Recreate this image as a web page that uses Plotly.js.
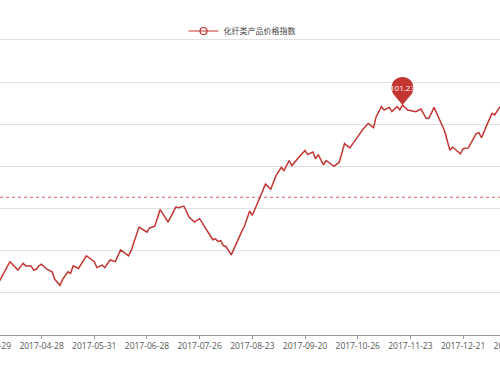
<!DOCTYPE html>
<html>
<head>
<meta charset="utf-8">
<script src="https://cdn.plot.ly/plotly-3.0.1.min.js"></script>
<style>
  html, body { margin: 0; padding: 0; width: 500px; height: 375px; overflow: hidden; background: #fff; }
  #chart { position: absolute; left: -48px; top: 0; width: 598px; height: 375px; }
</style>
</head>
<body>
<div id="chart"></div>
<script>
// ---- data ----
const seriesName = '化纤类产品价格指数';

const dates = [
  '2017-04-06','2017-04-10','2017-04-12','2017-04-17','2017-04-19','2017-04-20','2017-04-24','2017-04-25',
  '2017-04-26','2017-04-27','2017-04-28','2017-05-03','2017-05-05','2017-05-08','2017-05-10','2017-05-11',
  '2017-05-15','2017-05-16','2017-05-17','2017-05-19','2017-05-23','2017-05-24','2017-05-31','2017-06-01',
  '2017-06-05','2017-06-06','2017-06-08','2017-06-12','2017-06-14','2017-06-19','2017-06-20','2017-06-23',
  '2017-06-28','2017-06-29','2017-07-03','2017-07-05','2017-07-10','2017-07-13','2017-07-14','2017-07-18',
  '2017-07-20','2017-07-24','2017-07-26','2017-07-27','2017-07-31','2017-08-02','2017-08-03','2017-08-04',
  '2017-08-07','2017-08-08','2017-08-09','2017-08-11','2017-08-17','2017-08-18','2017-08-22','2017-08-23',
  '2017-08-28','2017-08-30','2017-09-01','2017-09-05','2017-09-07','2017-09-08','2017-09-12','2017-09-13',
  '2017-09-18','2017-09-20','2017-09-21','2017-09-25','2017-09-26','2017-09-27','2017-10-09','2017-10-10',
  '2017-10-13','2017-10-17','2017-10-19','2017-10-23','2017-10-26','2017-10-30','2017-11-01','2017-11-03',
  '2017-11-06','2017-11-08','2017-11-09','2017-11-13','2017-11-14','2017-11-16','2017-11-17','2017-11-20',
  '2017-11-22','2017-11-27','2017-11-29','2017-12-01','2017-12-04','2017-12-06','2017-12-08','2017-12-12',
  '2017-12-14','2017-12-15','2017-12-20','2017-12-21','2017-12-25','2017-12-28','2017-12-29','2018-01-02',
  '2018-01-04','2018-01-08','2018-01-09','2018-01-11'
];

const values = [
  99.14, 99.25, 99.37, 99.27, 99.35, 99.32, 99.32, 99.27,
  99.28, 99.32, 99.34, 99.28, 99.25, 99.16, 99.09, 99.16,
  99.25, 99.23, 99.32, 99.29, 99.38, 99.44, 99.37, 99.30,
  99.33, 99.30, 99.39, 99.37, 99.51, 99.44, 99.50, 99.78,
  99.72, 99.77, 99.79, 99.99, 99.84, 100.02, 100.01, 100.03,
  99.90, 99.84, 99.88, 99.83, 99.72, 99.63, 99.64, 99.61,
  99.62, 99.56, 99.55, 99.45, 99.73, 99.79, 99.97, 99.92,
  100.14, 100.29, 100.23, 100.39, 100.49, 100.45, 100.57, 100.51,
  100.62, 100.69, 100.64, 100.67, 100.59, 100.64, 100.52, 100.57,
  100.50, 100.55, 100.77, 100.72, 100.85, 100.94, 101.01, 100.96,
  101.09, 101.21, 101.17, 101.20, 101.15, 101.21, 101.17, 101.23,
  101.17, 101.15, 101.18, 101.07, 101.07, 101.20, 101.06, 100.92,
  100.69, 100.73, 100.65, 100.71, 100.72, 100.89, 100.90, 100.84,
  100.99, 101.13, 101.11, 101.21
];

// average reference line (dashed)
const averageValue = 100.134;

// x-axis tick labels (every 20th trading day)
const tickLabels = [
  '2017-03-29','2017-04-28','2017-05-31','2017-06-28','2017-07-26','2017-08-23',
  '2017-09-20','2017-10-26','2017-11-23','2017-12-21','2018-01-19'
];

// non-trading weekdays (holidays / gaps in the series)
const holidays = [
  '2017-04-03','2017-04-04','2017-05-01','2017-05-29','2017-05-30','2017-09-29',
  '2017-10-02','2017-10-03','2017-10-04','2017-10-05','2017-10-06','2018-01-01'
];

// ---- chart ----
const red = '#c23531';
const maxVal = Math.max(...values);
const maxIdx = values.indexOf(maxVal);
const maxDate = dates[maxIdx];

const pinPath = 'M 0 0 L 8.39 9.89 C 12.09 14.26 11.83 20.73 7.78 24.78 ' +
  'C 3.48 29.07 -3.48 29.07 -7.78 24.78 C -11.83 20.73 -12.09 14.26 -8.39 9.89 Z';

const traces = [
  {
    type: 'scatter', mode: 'lines', x: dates, y: values, name: seriesName,
    line: { color: red, width: 1.5 }, showlegend: false, hoverinfo: 'skip'
  },
  {
    type: 'scatter', mode: 'lines+markers', x: [null], y: [null], name: seriesName,
    line: { color: red, width: 1.2 },
    marker: { symbol: 'circle-open', size: 7, color: red, line: { width: 1.2, color: red } },
    showlegend: true, hoverinfo: 'skip'
  }
];

const layout = {
  width: 598, height: 375,
  margin: { l: 0, r: 0, t: 37, b: 40, pad: 0 },
  paper_bgcolor: '#ffffff', plot_bgcolor: '#ffffff',
  showlegend: true,
  legend: {
    orientation: 'h', x: 0.485, xanchor: 'center', y: 1.0201, yanchor: 'middle',
    font: { family: 'Noto Sans CJK SC', size: 8, color: '#444' },
    itemwidth: 30, bgcolor: 'rgba(0,0,0,0)'
  },
  xaxis: {
    type: 'date',
    range: ['2017-03-09', '2018-02-07'],
    rangebreaks: [ { bounds: ['sat', 'mon'] }, { values: holidays } ],
    tickmode: 'array', tickvals: tickLabels, ticktext: tickLabels,
    ticks: 'outside', ticklen: 3, tickwidth: 1, tickcolor: '#999',
    showline: true, linecolor: '#999', linewidth: 1,
    showgrid: false, zeroline: false,
    ticklabeloverflow: 'allow',
    tickfont: { family: 'Open Sans', size: 8.5, color: '#555' }
  },
  yaxis: {
    range: [98.5, 102.0354], tick0: 98.5, dtick: 0.5,
    showgrid: true, gridcolor: '#e0e0e0', gridwidth: 1,
    showticklabels: false, ticks: '', zeroline: false, showline: false
  },
  shapes: [
    {
      type: 'line', xref: 'paper', x0: 0, x1: 1, yref: 'y', y0: averageValue, y1: averageValue,
      line: { color: 'rgba(194,53,49,0.8)', width: 1, dash: '3px,3px' }
    },
    {
      type: 'path', xref: 'x', yref: 'y', xsizemode: 'pixel', ysizemode: 'pixel',
      xanchor: maxDate, yanchor: maxVal, path: pinPath,
      fillcolor: red, line: { width: 0 }
    }
  ],
  annotations: [
    {
      xref: 'x', yref: 'y', x: maxDate, y: maxVal, yshift: 17, showarrow: false,
      text: maxVal.toFixed(2), xanchor: 'center', yanchor: 'middle',
      font: { family: 'Open Sans', size: 8, color: '#ffffff' }
    }
  ]
};

Plotly.newPlot('chart', traces, layout, { staticPlot: true, displayModeBar: false });
</script>
</body>
</html>
